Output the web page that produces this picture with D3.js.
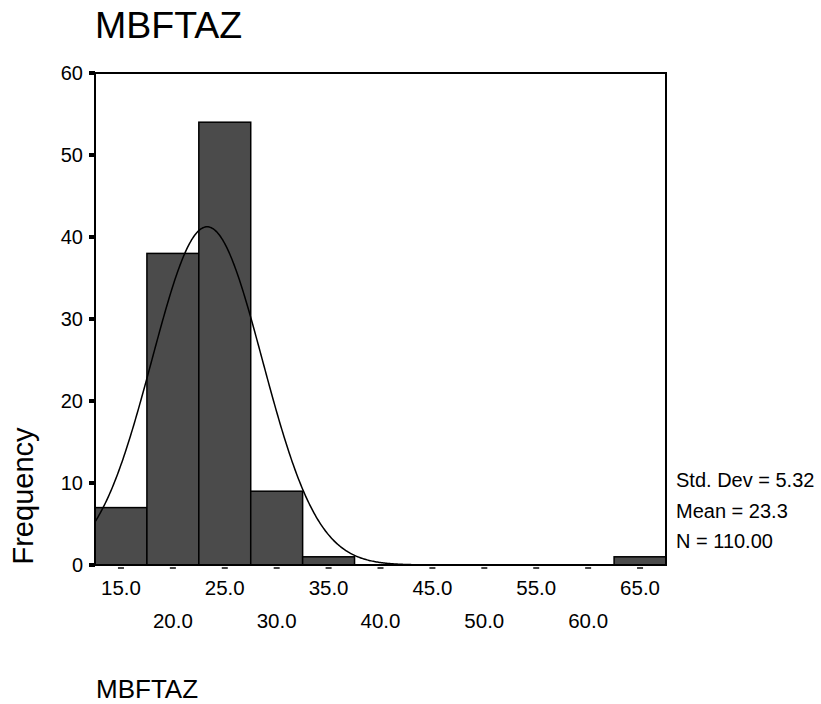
<!DOCTYPE html>
<html>
<head>
<meta charset="utf-8">
<script src="https://cdn.jsdelivr.net/npm/d3@7"></script>
<style>
  html, body { margin: 0; padding: 0; background: #fff; }
  svg { display: block; font-family: "Liberation Sans", Arial, sans-serif; }
</style>
</head>
<body>
<svg id="chart" width="821" height="704"></svg>
<script>
// Histogram bins (lower edges) and their frequencies
const binStarts = [12.5, 17.5, 22.5, 27.5, 32.5, 37.5, 42.5, 47.5, 52.5, 57.5, 62.5];
const counts    = [7, 38, 54, 9, 1, 0, 0, 0, 0, 0, 1];
const binWidth = 5;

// Axis ticks
const xTicks = [15, 20, 25, 30, 35, 40, 45, 50, 55, 60, 65];
const yTicks = [0, 10, 20, 30, 40, 50, 60];

// Summary statistics
const stdDev = 5.32;
const mean = 23.3;
const nCases = 110;

const varName = "MBFTAZ";

const svg = d3.select("#chart");

const x = d3.scaleLinear().domain([12.5, 67.5]).range([95, 666]);
const y = d3.scaleLinear().domain([0, 60]).range([565, 73]);

// Bars
svg.append("g")
  .selectAll("rect")
  .data(binStarts.map((s, i) => ({ s, c: counts[i] })).filter(d => d.c > 0))
  .join("rect")
  .attr("x", d => x(d.s))
  .attr("y", d => y(d.c))
  .attr("width", d => x(d.s + binWidth) - x(d.s))
  .attr("height", d => y(0) - y(d.c))
  .attr("fill", "#4b4b4b")
  .attr("stroke", "#000")
  .attr("stroke-width", 1.5);

// Normal curve fitted from the summary statistics
const pdf = v => Math.exp(-0.5 * ((v - mean) / stdDev) ** 2) / (stdDev * Math.sqrt(2 * Math.PI));
const curvePts = d3.range(12.5, 67.5001, 0.1).map(v => [v, nCases * binWidth * pdf(v)]);
svg.append("path")
  .datum(curvePts)
  .attr("fill", "none")
  .attr("stroke", "#000")
  .attr("stroke-width", 1.5)
  .attr("d", d3.line().x(d => x(d[0])).y(d => y(d[1])));

// Frame
svg.append("rect")
  .attr("x", x(12.5)).attr("y", y(60))
  .attr("width", x(67.5) - x(12.5)).attr("height", y(0) - y(60))
  .attr("fill", "none").attr("stroke", "#000").attr("stroke-width", 2);

// Y axis ticks and labels
const yg = svg.append("g");
yg.selectAll("rect")
  .data(yTicks)
  .join("rect")
  .attr("x", 89).attr("y", d => y(d) - 2)
  .attr("width", 6).attr("height", 4)
  .attr("fill", "#000");
yg.selectAll("text")
  .data(yTicks)
  .join("text")
  .attr("x", 83).attr("y", d => y(d) + 7)
  .attr("text-anchor", "end")
  .attr("font-size", 20)
  .text(d => d);

// X axis tick dashes and staggered labels
const fmt = d3.format(".1f");
const xg = svg.append("g");
xg.selectAll("rect")
  .data(xTicks)
  .join("rect")
  .attr("x", d => x(d) - 3).attr("y", 567)
  .attr("width", 6).attr("height", 2)
  .attr("fill", "#444");
xg.selectAll("text")
  .data(xTicks)
  .join("text")
  .attr("x", d => x(d))
  .attr("y", (d, i) => i % 2 === 0 ? 595 : 628)
  .attr("text-anchor", "middle")
  .attr("font-size", 20.5)
  .text(d => fmt(d));

// Statistics block
const stats = [
  "Std. Dev = " + stdDev.toFixed(2),
  "Mean = " + mean.toFixed(1),
  "N = " + nCases.toFixed(2)
];
svg.append("g")
  .selectAll("text")
  .data(stats)
  .join("text")
  .attr("x", 676)
  .attr("y", (d, i) => 487 + i * 30.7)
  .attr("font-size", 20)
  .text(d => d);

// Titles
svg.append("text")
  .attr("x", 95).attr("y", 38)
  .attr("font-size", 37.5)
  .text(varName);

svg.append("text")
  .attr("x", 96).attr("y", 698)
  .attr("font-size", 26)
  .text(varName);

svg.append("text")
  .attr("transform", "translate(33,496) rotate(-90)")
  .attr("text-anchor", "middle")
  .attr("font-size", 29)
  .text("Frequency");
</script>
</body>
</html>
